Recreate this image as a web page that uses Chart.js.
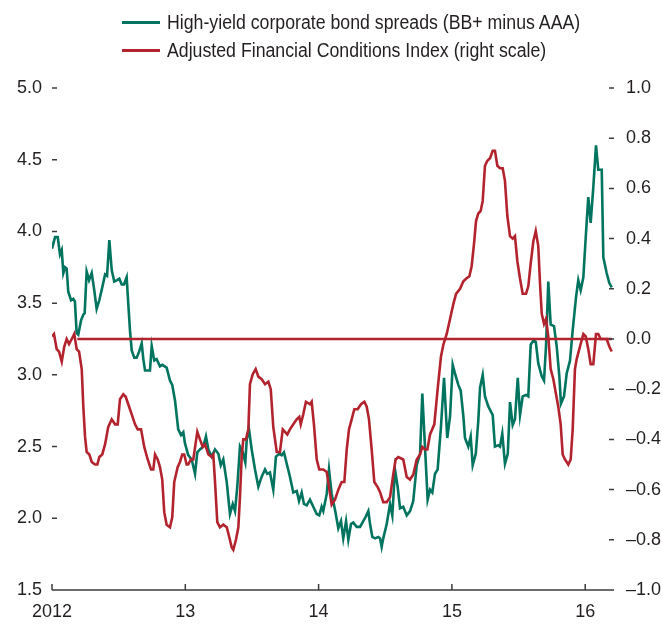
<!DOCTYPE html>
<html>
<head>
    <title>High-yield spreads and financial conditions</title>
    <meta charset="UTF-8">
    <script src="https://cdn.jsdelivr.net/npm/chart.js"></script>
    <style>
        body { margin: 0; background: #fff; }
        #wrap { position: relative; width: 662px; height: 625px; }
        #legend { position: absolute; left: 122px; top: 8px; font: 20px 'Liberation Sans', Arial, sans-serif; color: #231f20; }
        .row { display: flex; align-items: center; height: 28px; white-space: nowrap; }
        .swatch { width: 38px; height: 3px; margin-right: 7px; }
        .txt { display: inline-block; transform: scaleX(0.886); transform-origin: left center; }
    </style>
</head>
<body>
    <div id="wrap">
        <canvas id="chart" width="662" height="625"></canvas>
        <div id="legend">
            <div class="row"><span class="swatch" style="background:#00745f"></span><span class="txt">High-yield corporate bond spreads (BB+ minus AAA)</span></div>
            <div class="row"><span class="swatch" style="background:#b3232e"></span><span class="txt">Adjusted Financial Conditions Index (right scale)</span></div>
        </div>
    </div>

    <script>
        // x values are decimal years
        const hyDates = [
            2012.000, 2012.023, 2012.043, 2012.060, 2012.073, 2012.085, 2012.098, 2012.110, 2012.122, 2012.143,
            2012.160, 2012.172, 2012.185, 2012.197, 2012.218, 2012.235, 2012.245, 2012.260, 2012.278, 2012.298,
            2012.317, 2012.335, 2012.355, 2012.377, 2012.398, 2012.413, 2012.430, 2012.448, 2012.467, 2012.488,
            2012.505, 2012.523, 2012.540, 2012.560, 2012.572, 2012.585, 2012.598, 2012.617, 2012.635, 2012.653,
            2012.673, 2012.685, 2012.698, 2012.720, 2012.735, 2012.748, 2012.767, 2012.785, 2012.810, 2012.827,
            2012.860, 2012.885, 2012.902, 2012.923, 2012.947, 2012.968, 2012.985, 2012.998, 2013.022, 2013.048,
            2013.073, 2013.090, 2013.110, 2013.135, 2013.155, 2013.173, 2013.198, 2013.223, 2013.248, 2013.266,
            2013.285, 2013.311, 2013.335, 2013.356, 2013.373, 2013.390, 2013.410, 2013.431, 2013.450, 2013.461,
            2013.478, 2013.498, 2013.523, 2013.548, 2013.573, 2013.598, 2013.615, 2013.635, 2013.660, 2013.680,
            2013.705, 2013.723, 2013.740, 2013.761, 2013.785, 2013.810, 2013.836, 2013.853, 2013.873, 2013.890,
            2013.911, 2013.935, 2013.960, 2013.986, 2014.005, 2014.023, 2014.035, 2014.061, 2014.078, 2014.098,
            2014.123, 2014.148, 2014.168, 2014.185, 2014.206, 2014.223, 2014.243, 2014.260, 2014.286, 2014.311,
            2014.335, 2014.353, 2014.373, 2014.386, 2014.403, 2014.423, 2014.448, 2014.461, 2014.473, 2014.485,
            2014.511, 2014.536, 2014.553, 2014.573, 2014.593, 2014.611, 2014.635, 2014.661, 2014.686, 2014.710,
            2014.736, 2014.761, 2014.778, 2014.798, 2014.818, 2014.836, 2014.853, 2014.873, 2014.893, 2014.918,
            2014.941, 2014.965, 2014.986, 2015.006, 2015.023, 2015.048, 2015.066, 2015.086, 2015.098, 2015.123,
            2015.141, 2015.156, 2015.179, 2015.198, 2015.211, 2015.231, 2015.248, 2015.273, 2015.306, 2015.323,
            2015.348, 2015.361, 2015.378, 2015.398, 2015.419, 2015.436, 2015.456, 2015.473, 2015.494, 2015.511,
            2015.531, 2015.556, 2015.573, 2015.591, 2015.611, 2015.629, 2015.648, 2015.674, 2015.691, 2015.706,
            2015.723, 2015.741, 2015.766, 2015.786, 2015.806, 2015.818, 2015.841, 2015.861, 2015.886, 2015.906,
            2015.931, 2015.948, 2015.966, 2015.986, 2016.004, 2016.023, 2016.041, 2016.061, 2016.081, 2016.098,
            2016.124, 2016.136, 2016.161, 2016.181, 2016.199
        ];
        const hySpread = [
            3.88, 3.96, 3.96, 3.84, 3.87, 3.71, 3.75, 3.74, 3.58, 3.52,
            3.53, 3.51, 3.29, 3.28, 3.38, 3.42, 3.43, 3.72, 3.66, 3.71,
            3.59, 3.46, 3.52, 3.61, 3.70, 3.69, 3.94, 3.73, 3.65, 3.66,
            3.67, 3.63, 3.63, 3.68, 3.50, 3.31, 3.17, 3.12, 3.12, 3.16,
            3.22, 3.11, 3.03, 3.03, 3.03, 3.20, 3.10, 3.11, 3.06, 3.07,
            3.05, 2.96, 2.93, 2.82, 2.62, 2.58, 2.60, 2.52, 2.44, 2.41,
            2.31, 2.46, 2.48, 2.50, 2.57, 2.48, 2.43, 2.48, 2.45, 2.37,
            2.41, 2.25, 2.03, 2.10, 2.05, 2.22, 2.50, 2.46, 2.39, 2.55,
            2.62, 2.48, 2.34, 2.22, 2.29, 2.34, 2.31, 2.32, 2.20, 2.43,
            2.45, 2.44, 2.46, 2.38, 2.29, 2.18, 2.19, 2.12, 2.18, 2.10,
            2.09, 2.13, 2.08, 2.03, 2.02, 2.08, 2.05, 2.17, 2.34, 2.17,
            2.06, 1.93, 1.98, 1.86, 1.98, 1.85, 1.96, 1.97, 1.94, 1.94,
            1.98, 2.01, 2.05, 1.96, 1.87, 1.86, 1.87, 1.86, 1.80, 1.86,
            1.96, 2.10, 2.02, 2.34, 2.22, 2.07, 2.08, 2.02, 2.05, 2.12,
            2.37, 2.45, 2.87, 2.50, 2.13, 2.20, 2.18, 2.31, 2.34, 2.64,
            2.98, 2.56, 2.71, 3.07, 3.01, 2.93, 2.89, 2.71, 2.56, 2.50,
            2.57, 2.37, 2.45, 2.68, 2.91, 3.00, 2.85, 2.78, 2.72, 2.50,
            2.51, 2.50, 2.59, 2.38, 2.45, 2.81, 2.65, 2.69, 2.98, 2.72,
            2.85, 2.86, 2.85, 3.21, 3.24, 3.23, 3.08, 2.99, 2.96, 3.20,
            3.65, 3.35, 3.34, 3.20, 2.99, 2.80, 2.85, 3.01, 3.10, 3.31,
            3.54, 3.66, 3.59, 3.68, 3.96, 4.24, 4.06, 4.31, 4.60, 4.43,
            4.43, 3.82, 3.71, 3.64, 3.61
        ];

        const fciDates = [
            2012.000, 2012.015, 2012.035, 2012.053, 2012.073, 2012.092, 2012.110, 2012.128, 2012.148, 2012.167,
            2012.185, 2012.203, 2012.223, 2012.235, 2012.248, 2012.260, 2012.280, 2012.298, 2012.323, 2012.340,
            2012.355, 2012.377, 2012.398, 2012.422, 2012.448, 2012.473, 2012.493, 2012.510, 2012.535, 2012.553,
            2012.572, 2012.598, 2012.623, 2012.643, 2012.668, 2012.692, 2012.718, 2012.743, 2012.760, 2012.773,
            2012.793, 2012.810, 2012.827, 2012.842, 2012.860, 2012.885, 2012.902, 2012.917, 2012.943, 2012.960,
            2012.977, 2012.992, 2013.010, 2013.022, 2013.041, 2013.060, 2013.090, 2013.110, 2013.131, 2013.148,
            2013.173, 2013.198, 2013.210, 2013.223, 2013.240, 2013.260, 2013.285, 2013.311, 2013.330, 2013.348,
            2013.360, 2013.380, 2013.398, 2013.410, 2013.423, 2013.435, 2013.455, 2013.473, 2013.485, 2013.506,
            2013.528, 2013.548, 2013.573, 2013.598, 2013.623, 2013.641, 2013.660, 2013.686, 2013.710, 2013.731,
            2013.748, 2013.765, 2013.785, 2013.810, 2013.836, 2013.855, 2013.866, 2013.885, 2013.905, 2013.935,
            2013.948, 2013.965, 2013.986, 2014.005, 2014.035, 2014.061, 2014.078, 2014.098, 2014.123, 2014.148,
            2014.173, 2014.193, 2014.211, 2014.228, 2014.248, 2014.268, 2014.293, 2014.318, 2014.343, 2014.361,
            2014.378, 2014.398, 2014.418, 2014.443, 2014.461, 2014.485, 2014.511, 2014.536, 2014.560, 2014.578,
            2014.598, 2014.635, 2014.661, 2014.686, 2014.710, 2014.736, 2014.761, 2014.778, 2014.798, 2014.816,
            2014.836, 2014.868, 2014.893, 2014.918, 2014.937, 2014.961, 2014.986, 2015.011, 2015.031, 2015.061,
            2015.086, 2015.106, 2015.131, 2015.148, 2015.166, 2015.181, 2015.198, 2015.216, 2015.231, 2015.248,
            2015.266, 2015.286, 2015.306, 2015.323, 2015.341, 2015.361, 2015.381, 2015.398, 2015.416, 2015.436,
            2015.456, 2015.473, 2015.491, 2015.511, 2015.531, 2015.556, 2015.573, 2015.591, 2015.611, 2015.629,
            2015.648, 2015.661, 2015.674, 2015.691, 2015.706, 2015.723, 2015.741, 2015.761, 2015.781, 2015.798,
            2015.816, 2015.831, 2015.848, 2015.873, 2015.891, 2015.906, 2015.923, 2015.936, 2015.961, 2015.986,
            2016.004, 2016.023, 2016.041, 2016.061, 2016.081, 2016.098, 2016.116, 2016.136, 2016.161, 2016.181,
            2016.199
        ];
        const fciValues = [
            0.01, 0.02, -0.04, -0.05, -0.09, -0.03, 0.00, -0.02, 0.00, 0.02,
            -0.04, -0.05, -0.12, -0.27, -0.39, -0.45, -0.46, -0.49, -0.50, -0.50,
            -0.47, -0.46, -0.42, -0.35, -0.32, -0.34, -0.34, -0.24, -0.22, -0.23,
            -0.26, -0.30, -0.34, -0.36, -0.36, -0.43, -0.48, -0.52, -0.52, -0.46,
            -0.48, -0.51, -0.56, -0.69, -0.74, -0.75, -0.71, -0.57, -0.51, -0.49,
            -0.46, -0.46, -0.50, -0.50, -0.48, -0.48, -0.37, -0.40, -0.43, -0.42,
            -0.46, -0.47, -0.46, -0.57, -0.73, -0.75, -0.74, -0.75, -0.79, -0.83,
            -0.84, -0.80, -0.75, -0.63, -0.47, -0.40, -0.40, -0.36, -0.18, -0.14,
            -0.12, -0.15, -0.16, -0.18, -0.17, -0.20, -0.35, -0.45, -0.45, -0.36,
            -0.37, -0.38, -0.36, -0.34, -0.32, -0.31, -0.34, -0.30, -0.25, -0.26,
            -0.25, -0.34, -0.48, -0.52, -0.52, -0.53, -0.59, -0.66, -0.64, -0.60,
            -0.57, -0.57, -0.44, -0.36, -0.32, -0.28, -0.28, -0.26, -0.25, -0.27,
            -0.32, -0.44, -0.57, -0.59, -0.61, -0.65, -0.65, -0.63, -0.54, -0.48,
            -0.47, -0.48, -0.55, -0.56, -0.54, -0.48, -0.46, -0.43, -0.44, -0.44,
            -0.38, -0.34, -0.20, -0.07, -0.02, 0.02, 0.08, 0.14, 0.18, 0.20,
            0.23, 0.24, 0.25, 0.29, 0.38, 0.47, 0.50, 0.51, 0.55, 0.69,
            0.71, 0.72, 0.75, 0.75, 0.69, 0.68, 0.68, 0.63, 0.49, 0.41,
            0.40, 0.41, 0.31, 0.24, 0.18, 0.18, 0.21, 0.30, 0.39, 0.43,
            0.37, 0.22, 0.10, 0.06, 0.08, 0.01, -0.12, -0.16, -0.22, -0.27,
            -0.34, -0.46, -0.48, -0.50, -0.48, -0.36, -0.12, -0.08, -0.03, 0.02,
            0.01, -0.04, -0.10, -0.10, 0.02, 0.02, 0.00, 0.00, 0.00, -0.03,
            -0.05
        ];

        // zero reference line on the right scale
        const zeroDates = [2012.190, 2016.200];
        const zeroValues = [0, 0];

        const xTicks = [2012, 2013, 2014, 2015, 2016];
        const xTickLabels = ['2012', '13', '14', '15', '16'];

        const green = '#00745f';
        const red = '#b3232e';
        const axisColor = '#3c3c3c';

        const pairs = (xs, ys) => xs.map((x, i) => ({ x: x, y: ys[i] }));

        Chart.defaults.font.family = "'Liberation Sans', Arial, sans-serif";
        Chart.defaults.font.size = 18;
        Chart.defaults.color = '#231f20';

        // tick marks drawn inward, like the original
        const axisMarks = {
            id: 'axisMarks',
            afterDraw(chart) {
                const ctx = chart.ctx;
                const a = chart.chartArea;
                const x = chart.scales.x, yl = chart.scales.y, yr = chart.scales.y1;
                ctx.save();
                ctx.strokeStyle = axisColor;
                ctx.lineWidth = 1.5;
                ctx.beginPath();
                ctx.moveTo(a.left, a.bottom);
                ctx.lineTo(a.right, a.bottom);
                xTicks.forEach(v => {
                    const px = x.getPixelForValue(v);
                    ctx.moveTo(px, a.bottom);
                    ctx.lineTo(px, a.bottom - 6);
                });
                yl.ticks.forEach(t => {
                    if (t.value <= 1.5) return;
                    const py = yl.getPixelForValue(t.value);
                    ctx.moveTo(a.left, py);
                    ctx.lineTo(a.left + 5, py);
                });
                yr.ticks.forEach(t => {
                    const py = yr.getPixelForValue(t.value);
                    ctx.moveTo(a.right - 5, py);
                    ctx.lineTo(a.right, py);
                });
                ctx.stroke();
                ctx.restore();
            }
        };

        new Chart(document.getElementById('chart'), {
            type: 'line',
            data: {
                datasets: [
                    {
                        label: 'High-yield corporate bond spreads (BB+ minus AAA)',
                        data: pairs(hyDates, hySpread),
                        yAxisID: 'y',
                        borderColor: green,
                        borderWidth: 2.6,
                        order: 3
                    },
                    {
                        label: 'zero',
                        data: pairs(zeroDates, zeroValues),
                        yAxisID: 'y1',
                        borderColor: red,
                        borderWidth: 2.6,
                        order: 2
                    },
                    {
                        label: 'Adjusted Financial Conditions Index (right scale)',
                        data: pairs(fciDates, fciValues),
                        yAxisID: 'y1',
                        borderColor: red,
                        borderWidth: 2.6,
                        order: 1
                    }
                ]
            },
            options: {
                responsive: false,
                animation: false,
                parsing: false,
                elements: { point: { radius: 0 }, line: { tension: 0 } },
                layout: { padding: { top: 88, left: 0, right: 0, bottom: 0 } },
                plugins: { legend: { display: false }, tooltip: { enabled: false } },
                scales: {
                    x: {
                        type: 'linear',
                        min: 2012,
                        max: 2016.216,
                        grid: { display: false, drawTicks: false },
                        border: { display: false },
                        afterFit: s => { s.height = 35; },
                        afterBuildTicks: s => { s.ticks = xTicks.map(v => ({ value: v })); },
                        ticks: {
                            padding: 11,
                            maxRotation: 0,
                            autoSkip: false,
                            callback: v => xTickLabels[xTicks.indexOf(Math.round(v))]
                        }
                    },
                    y: {
                        position: 'left',
                        min: 1.5,
                        max: 5.0,
                        grid: { display: false, drawTicks: false },
                        border: { display: false },
                        afterFit: s => { s.width = 52; },
                        ticks: {
                            stepSize: 0.5,
                            padding: 10,
                            callback: v => v.toFixed(1)
                        }
                    },
                    y1: {
                        position: 'right',
                        min: -1.0,
                        max: 1.0,
                        grid: { display: false, drawTicks: false },
                        border: { display: false },
                        afterFit: s => { s.width = 48; },
                        ticks: {
                            stepSize: 0.2,
                            padding: 12,
                            callback: v => {
                                const r = Math.round(v * 10) / 10;
                                return (r < 0 ? '\u2013' : '') + Math.abs(r).toFixed(1);
                            }
                        }
                    }
                }
            },
            plugins: [axisMarks]
        });
    </script>
</body>
</html>
